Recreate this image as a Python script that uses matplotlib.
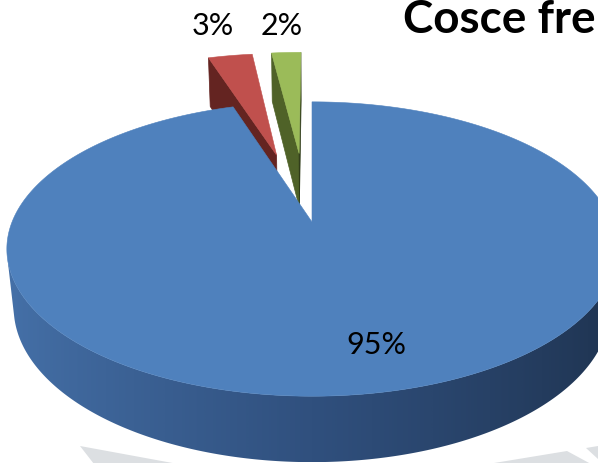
import numpy as np
import matplotlib
matplotlib.use("Agg")
import matplotlib.pyplot as plt
from matplotlib.patches import Polygon
from matplotlib.colors import LinearSegmentedColormap

# ---- data ----
title = "Cosce fre"
shares = [95, 3, 2]
pct_labels = ["95%", "3%", "2%"]
explode = [0.0, 0.53, 0.53]

# ---- style ----
top_colors = ["#4F81BD", "#C0504D", "#9BBB59"]
wall_stops = [["#4672AA", "#30507E", "#1E324E"],
              ["#652421", "#4A1A18", "#3A1413"],
              ["#4F6228", "#3E4D1F", "#2E3A17"]]
label_offsets = [(24, 0), (-17, 31), (-5, 28)]

W, H = 598, 464
ELEV = np.radians(28.3)
DIST = 4.794
FOCAL = 1438.0
CX, CY = 312.0, 223.0
THICK = 0.224
EXPLODE_TILT = np.radians(-1.5)
S, C = np.sin(ELEV), np.cos(ELEV)
CAM = np.array([0.0, DIST * S, -DIST * C])


def project(X, Y, Z):
    vx, vy, vz = X - CAM[0], Y - CAM[1], Z - CAM[2]
    yc = vy * C + vz * S
    zc = -vy * S + vz * C
    return CX + FOCAL * vx / zc, CY - FOCAL * yc / zc


def faces_camera(nx, nz, px, pz):
    return nx * (CAM[0] - px) + nz * (CAM[2] - pz) > 0


def shade(i, nx):
    cmap = LinearSegmentedColormap.from_list("w%d" % i, wall_stops[i])
    return cmap((nx + 1) / 2.0)


fig = plt.figure(figsize=(W / 100, H / 100), dpi=100)
ax = fig.add_axes([0, 0, 1, 1])
ax.set_xlim(0, W)
ax.set_ylim(H, 0)
ax.axis("off")

# faint slide decoration along the bottom
deco = "#DCDFE2"
for poly in ([(80, 447), (178, 465), (94, 465)],
             [(488, 465), (567, 452), (591, 465)],
             [(586, 449), (598, 447), (598, 460)]):
    ax.add_patch(Polygon(poly, closed=True, facecolor=deco, edgecolor="none", zorder=0))

total = float(sum(shares))
bounds = np.concatenate([[0], np.cumsum(shares)]) / total * 360.0

slices = []
for i in range(len(shares)):
    a0, a1 = bounds[i], bounds[i + 1]
    mid = np.radians((a0 + a1) / 2)
    d = mid + EXPLODE_TILT
    ox, oz = explode[i] * np.sin(d), explode[i] * np.cos(d)
    slices.append((i, a0, a1, ox, oz, mid))

# far slices first
order = sorted(slices, key=lambda s: -(s[4] + 0.5 * np.cos(s[5])))

z = 1
for i, a0, a1, ox, oz, mid in order:
    n = max(int((a1 - a0) / 0.5), 2)
    phis = np.radians(np.linspace(a0, a1, n + 1))
    rx, rz = ox + np.sin(phis), oz + np.cos(phis)

    # radial walls
    for phi, sign in ((np.radians(a0), -1), (np.radians(a1), 1)):
        nx, nz = sign * np.cos(phi), -sign * np.sin(phi)
        ex, ez = ox + np.sin(phi), oz + np.cos(phi)
        if faces_camera(nx, nz, ox, oz):
            pts = [project(ox, 0, oz), project(ex, 0, ez),
                   project(ex, -THICK, ez), project(ox, -THICK, oz)]
            col = shade(i, nx)
            ax.add_patch(Polygon(pts, closed=True, facecolor=col,
                                 edgecolor=col, lw=0.5, zorder=z))

    # curved outer wall: one outline, shaded by a gradient clipped to it
    vis = []
    for k in range(n + 1):
        if faces_camera(np.sin(phis[k]), np.cos(phis[k]), rx[k], rz[k]):
            vis.append(k)
    if len(vis) > 1:
        upper = [project(rx[k], 0, rz[k]) for k in vis]
        lower = [project(rx[k], -THICK, rz[k]) for k in vis[::-1]]
        wall = Polygon(upper + lower, closed=True, facecolor="none",
                       edgecolor="none", zorder=z)
        ax.add_patch(wall)
        xs = np.array([p[0] for p in upper + lower])
        ys = np.array([p[1] for p in upper + lower])
        nxs = np.sin(phis[vis])
        # colour along x follows the surface normal of the rim
        grid_x = np.linspace(xs.min(), xs.max(), 400)
        rim_x = np.array([p[0] for p in upper])
        srt = np.argsort(rim_x)
        nx_at = np.interp(grid_x, rim_x[srt], nxs[srt])
        img = shade(i, nx_at)[None, :, :]
        im = ax.imshow(img, extent=(xs.min(), xs.max(), ys.max(), ys.min()),
                       aspect="auto", interpolation="bilinear", zorder=z)
        im.set_clip_path(wall)

    # top face
    top = [project(ox, 0, oz)] + [project(x, 0, zz) for x, zz in zip(rx, rz)]
    ax.add_patch(Polygon(top, closed=True, facecolor=top_colors[i],
                         edgecolor=top_colors[i], lw=0.4, zorder=z + 1))
    z += 2

ax.set_xlim(0, W)
ax.set_ylim(H, 0)

# percentage labels
for i, a0, a1, ox, oz, mid in slices:
    r = 0.75 if shares[i] / total > 0.5 else 1.0
    px, py = project(ox + r * np.sin(mid), 0, oz + r * np.cos(mid))
    ax.annotate(pct_labels[i], (px, py), xytext=label_offsets[i],
                textcoords="offset pixels", ha="center", va="center",
                fontsize=22, family="Lato", color="black", zorder=20)

ax.text(403, 20, title, ha="left", va="center", fontsize=33,
        family="Lato", fontweight="bold", color="black", zorder=20)

fig.savefig("out.png", dpi=100, facecolor="white")
